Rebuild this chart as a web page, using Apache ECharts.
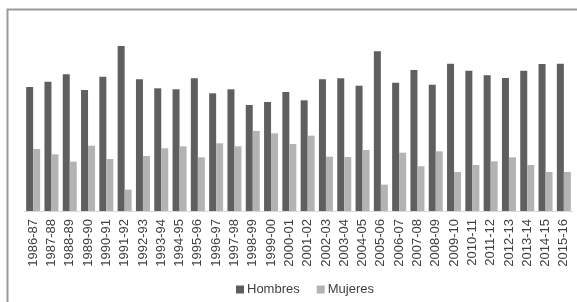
<!DOCTYPE html>
<html>
<head>
<meta charset="utf-8">
<script src="https://cdn.jsdelivr.net/npm/echarts@6/dist/echarts.min.js"></script>
<style>
html,body{margin:0;padding:0;background:#fff;}
#c{width:577px;height:302px;}
</style>
</head>
<body>
<div id="c"></div>
<script>
const categories = ["1986-87","1987-88","1988-89","1989-90","1990-91","1991-92","1992-93","1993-94","1994-95","1995-96","1996-97","1997-98","1998-99","1999-00","2000-01","2001-02","2002-03","2003-04","2004-05","2005-06","2006-07","2007-08","2008-09","2009-10","2010-11","2011-12","2012-13","2013-14","2014-15","2015-16"];
const hombres = [124,129.3,136.7,121,134.3,165,131.7,122.7,121.7,132.7,117.7,121.7,106,109,119,110.7,131.7,132.7,125.3,159.7,128.3,141,126.3,147.3,140.3,135.7,133,140.3,147,147.3];
const mujeres = [62,56.7,49.3,65.3,52,21.3,55,62.7,64.7,53.7,67.7,64.7,80,77.7,67,75.3,54.3,54,61,26.3,58.3,44.7,59.7,39,46,49.7,53.7,46,39,39];
const seriesNames = ["Hombres","Mujeres"];

const chart = echarts.init(document.getElementById('c'), null, {renderer:'canvas'});
chart.setOption({
  animation:false,
  backgroundColor:'#fff',
  textStyle:{fontFamily:'Liberation Sans'},
  graphic:[{
    type:'rect',
    shape:{x:7.5,y:9.5,width:620,height:400},
    style:{fill:'none',stroke:'#9a9a9a',lineWidth:2},
    silent:true
  }],
  grid:{left:24,right:4,top:11,bottom:91},
  legend:{
    left:231, top:278,
    itemWidth:8, itemHeight:8, itemGap:17,
    icon:'rect',
    textStyle:{fontSize:13,color:'#404040',fontFamily:'Liberation Sans',padding:[0,0,0,-2]},
    data:seriesNames
  },
  xAxis:{
    type:'category',
    data:categories,
    axisLine:{lineStyle:{color:'#d9d9d9',width:1}},
    axisTick:{show:false},
    axisLabel:{rotate:90,interval:0,fontSize:13,color:'#404040',margin:8,fontFamily:'Liberation Sans'}
  },
  yAxis:{
    type:'value', min:0, max:200,
    show:false, splitLine:{show:false}
  },
  series:[
    {name:seriesNames[0],type:'bar',data:hombres,barWidth:7,barGap:'0%',itemStyle:{color:'#5f5f5f'}},
    {name:seriesNames[1],type:'bar',data:mujeres,barWidth:7,barGap:'0%',itemStyle:{color:'#b3b3b3'}}
  ]
});
</script>
</body>
</html>
